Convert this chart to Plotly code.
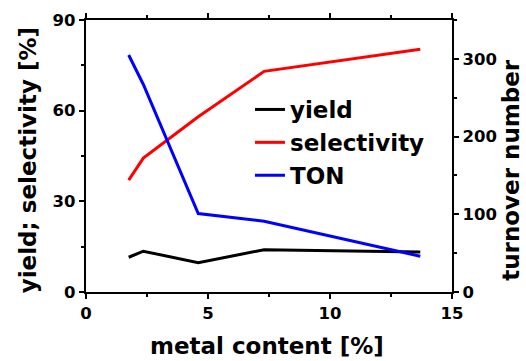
import plotly.graph_objects as go

# metal loading of the catalysts [%]
metal_content = [1.75, 2.35, 4.6, 7.3, 13.7]
# catalytic results
yield_pct = [11.5, 13.5, 9.7, 14.0, 13.2]
selectivity_pct = [37.0, 44.3, 58.0, 73.0, 80.3]
turnover_number = [305, 267, 101, 91, 46]

x_ticks = [0, 5, 10, 15]
left_ticks = [0, 30, 60, 90]
right_ticks = [0, 100, 200, 300]

font_family = "DejaVu Sans"
lw = 3
title_font = dict(family=font_family, size=23, color="black", weight="bold")

fig = go.Figure()
fig.add_trace(go.Scatter(x=metal_content, y=yield_pct, mode="lines", name="yield",
                         line=dict(color="black", width=lw)))
fig.add_trace(go.Scatter(x=metal_content, y=selectivity_pct, mode="lines", name="selectivity",
                         line=dict(color="#ff0000", width=lw)))
fig.add_trace(go.Scatter(x=metal_content, y=turnover_number, mode="lines", name="TON",
                         line=dict(color="#0000ff", width=lw), yaxis="y2"))

minor_style = dict(ticks="outside", ticklen=3, tickwidth=2, tickcolor="black")
axis_common = dict(
    showline=True, linecolor="black", linewidth=2.4,
    ticks="outside", ticklen=5, tickwidth=2, tickcolor="black",
    showgrid=False, zeroline=False, automargin=False,
    tickfont=dict(family=font_family, size=16.5, color="black", weight="bold"),
)

# axis titles placed as paper-anchored text
fig.add_annotation(text="metal content [%]", x=0.4945, y=-0.2, xref="paper", yref="paper",
                   xanchor="center", yanchor="middle", showarrow=False, font=title_font)
fig.add_annotation(text="yield; selectivity [%]", x=-0.158, y=0.485, xref="paper", yref="paper",
                   xanchor="center", yanchor="middle", textangle=-90, showarrow=False, font=title_font)
fig.add_annotation(text="turnover number", x=1.161, y=0.449, xref="paper", yref="paper",
                   xanchor="center", yanchor="middle", textangle=-90, showarrow=False, font=title_font)

fig.update_layout(
    width=526, height=361,
    margin=dict(l=86, r=74, t=20, b=69),
    paper_bgcolor="white", plot_bgcolor="white",
    showlegend=True,
    legend=dict(x=0.448, y=0.75, xanchor="left", yanchor="top",
                bgcolor="rgba(0,0,0,0)",
                font=dict(family=font_family, size=23, color="black", weight="bold"),
                tracegroupgap=0, itemwidth=30),
    xaxis=dict(range=[0, 15], tickvals=x_ticks, mirror="ticks",
               minor=dict(dtick=2.5, tick0=0, **minor_style),
               **axis_common),
    yaxis=dict(range=[0, 90], tickvals=left_ticks,
               minor=dict(dtick=15, tick0=0, **minor_style),
               **axis_common),
    yaxis2=dict(range=[0, 350], tickvals=right_ticks, overlaying="y", side="right",
                minor=dict(dtick=50, tick0=0, **minor_style),
                **axis_common),
)

fig.write_html("out.html")
